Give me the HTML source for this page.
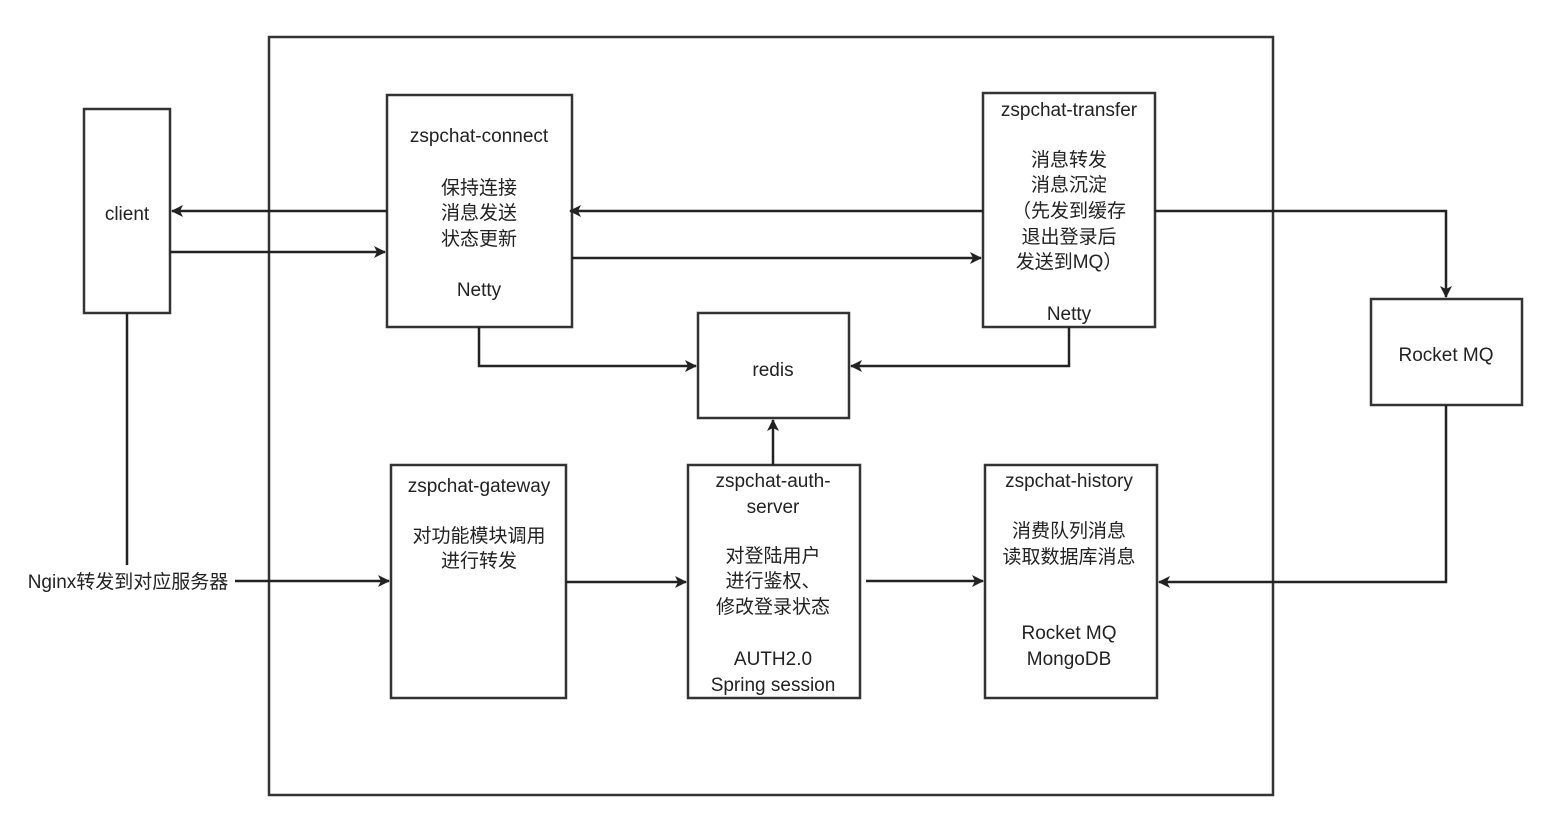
<!DOCTYPE html>
<html><head><meta charset="utf-8"><style>
html,body{margin:0;padding:0;background:#fff;}
svg{display:block;}
text{font-family:"Liberation Sans","Noto Sans CJK SC",sans-serif;font-size:19px;fill:#222;text-anchor:middle;}
</style></head><body>
<svg width="1559" height="832" viewBox="0 0 1559 832" xmlns="http://www.w3.org/2000/svg">
<defs><marker id="a" markerWidth="12" markerHeight="12" refX="11" refY="6" orient="auto" markerUnits="userSpaceOnUse"><path d="M0,0 L12,6 L0,12 L3,6 Z" fill="#222"/></marker></defs>
<g fill="none" stroke="#333" stroke-width="2.5">
<rect x="269" y="37" width="1004" height="758"/>
<rect x="84" y="109" width="86" height="204"/>
<rect x="387" y="95" width="185" height="232"/>
<rect x="983" y="93" width="172" height="234"/>
<rect x="698" y="313" width="151" height="105"/>
<rect x="1371" y="299" width="151" height="106"/>
<rect x="391" y="465" width="175" height="233"/>
<rect x="688" y="465" width="172" height="233"/>
<rect x="985" y="465" width="172" height="233"/>
</g>
<g fill="none" stroke="#222" stroke-width="2.5" marker-end="url(#a)">
<path d="M387,211 H172"/>
<path d="M170,252 H385"/>
<path d="M983,211 H570"/>
<path d="M572,258 H981"/>
<path d="M479,327 V366 H696"/>
<path d="M1069,327 V366 H851"/>
<path d="M773,465 V420"/>
<path d="M1155,211 H1446 V297"/>
<path d="M1446,405 V582 H1159"/>
<path d="M235,581 H389"/>
<path d="M566,582 H686"/>
<path d="M866,581 H983"/>
</g>
<path d="M127,313 V565" stroke="#222" stroke-width="2.5"/>
<text x="127" y="220">client</text>
<text x="128" y="588">Nginx转发到对应服务器</text>
<text x="479" y="142">zspchat-connect</text>
<text x="479" y="194">保持连接</text>
<text x="479" y="219">消息发送</text>
<text x="479" y="245">状态更新</text>
<text x="479" y="296">Netty</text>
<text x="1069" y="116">zspchat-transfer</text>
<text x="1069" y="166">消息转发</text>
<text x="1069" y="191">消息沉淀</text>
<text x="1069" y="217">（先发到缓存</text>
<text x="1069" y="243">退出登录后</text>
<text x="1069" y="268">发送到MQ）</text>
<text x="1069" y="320">Netty</text>
<text x="773" y="376">redis</text>
<text x="1446" y="361">Rocket MQ</text>
<text x="479" y="492">zspchat-gateway</text>
<text x="479" y="542">对功能模块调用</text>
<text x="479" y="567">进行转发</text>
<text x="773" y="487">zspchat-auth-</text>
<text x="773" y="513">server</text>
<text x="773" y="562">对登陆用户</text>
<text x="773" y="587">进行鉴权、</text>
<text x="773" y="613">修改登录状态</text>
<text x="773" y="665">AUTH2.0</text>
<text x="773" y="691">Spring session</text>
<text x="1069" y="487">zspchat-history</text>
<text x="1069" y="537">消费队列消息</text>
<text x="1069" y="563">读取数据库消息</text>
<text x="1069" y="639">Rocket MQ</text>
<text x="1069" y="665">MongoDB</text>
</svg>
</body></html>
